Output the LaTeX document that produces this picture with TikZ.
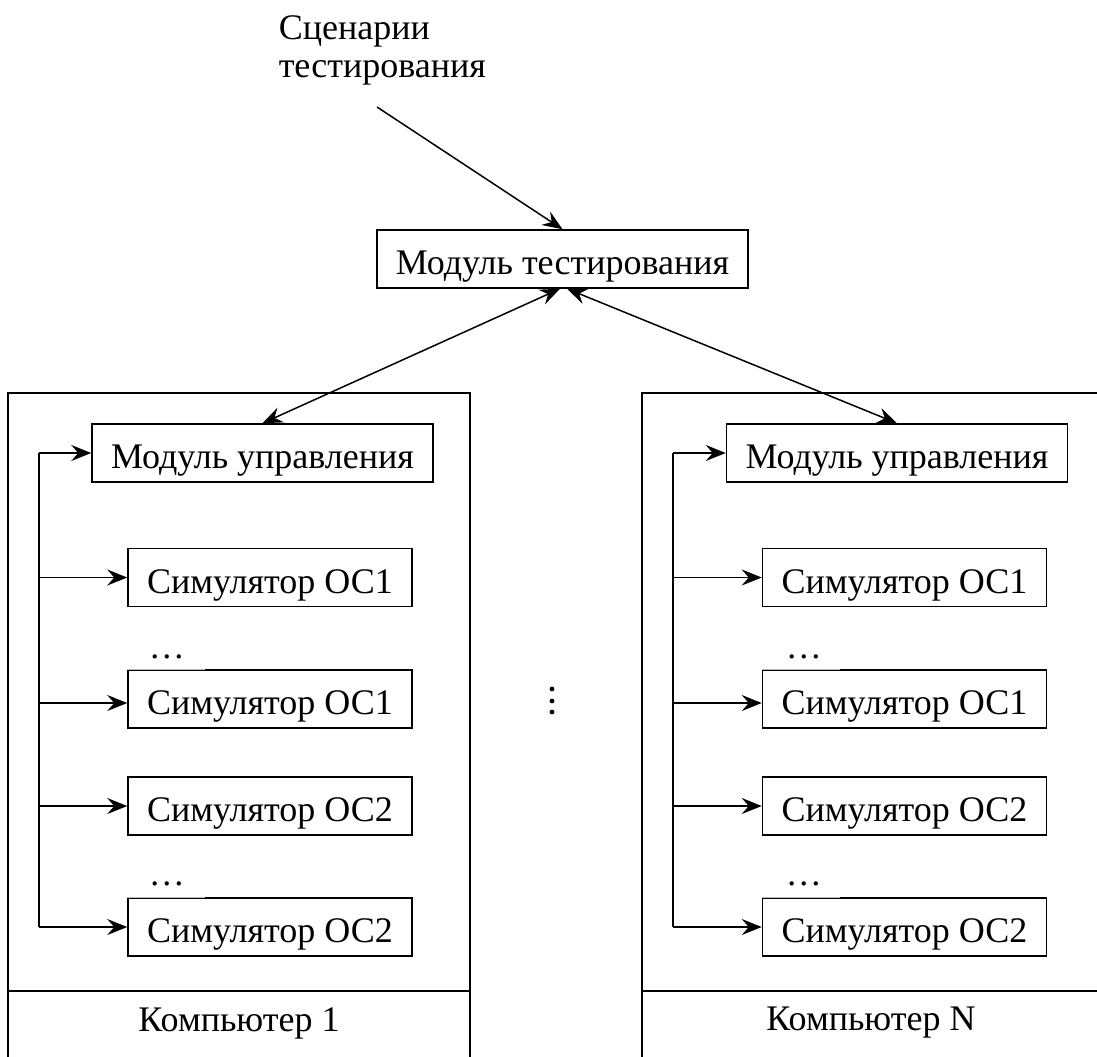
\documentclass[tikz,border=0pt]{standalone}
\usepackage{fontspec}
\setmainfont{Liberation Serif}
\usetikzlibrary{arrows.meta,calc}
\begin{document}
\begin{tikzpicture}[x=0.5pt,y=-0.5pt,
  font=\fontsize{18}{19}\selectfont,
  line width=0.75pt,
  tip/.style={-{Stealth[length=10pt,width=8pt,inset=3.5pt]}},
  both/.style={{Stealth[length=10pt,width=8pt,inset=3.5pt]}-{Stealth[length=10pt,width=8pt,inset=3.5pt]}},
  box/.style={draw,inner sep=0pt,minimum height=29pt,text height=15.5pt,text depth=0pt},
  testbox/.style={box,minimum width=185.5pt},
  mubox/.style={box,minimum width=170.5pt},
  simbox/.style={box,minimum width=142pt},
  comp/.style={draw},
  divider/.style={line width=1.1pt},
  faint/.style={draw=white,line width=1pt},
  faintgray/.style={draw=gray!55,line width=0.5pt},
  dotc/.style={fill=black,draw=none}]
\useasboundingbox (0,0) rectangle (1097,1056);

% computers
\draw[comp] (8,1070) -- (8,393) -- (470,393) -- (470,1070);
\draw[divider] (8,991) -- (470,991);
\draw[comp] (642,1070) -- (642,393) -- (1110,393);
\draw[divider] (642,991) -- (1110,991);
\node (c1) at (239,1023) {Компьютер 1};
\node (cN) at (871,1023) {Компьютер N};

% top
\node[align=left,anchor=north west,inner sep=0pt] (scen) at (278,15) {Сценарии\\тестирования};
\node[testbox] (test) at (562.5,259) {Модуль тестирования};
\coordinate (scenend) at (377,107);
\draw[tip] (scenend) -- (test.north);

% computer 1
\node[mubox] (mu1) at (262.5,453) {Модуль управления};
\node[simbox] (s11) at (270,577.5) {Симулятор ОС1};
\node[simbox] (s12) at (270,699) {Симулятор ОС1};
\node[simbox] (s21) at (270,806) {Симулятор ОС2};
\node[simbox] (s22) at (270,927) {Симулятор ОС2};
\node[anchor=west,inner sep=0pt] (d1) at (148,657) {…};
\node[anchor=west,inner sep=0pt] (d2) at (148,884) {…};
\coordinate (b1top) at (39,453);
\coordinate (b1bot) at (39,927);
\coordinate (s12in) at ($(s12.west)+(0,4)$);
\draw (b1bot) -- (b1top);
\draw[tip] (b1top) -- (mu1.west);
\draw[tip] (b1bot) -- (s22.west);
\draw[tip] (b1top |- s11.west) -- (s11.west);
\draw[tip] (b1top |- s12in) -- (s12in);
\draw[tip] (b1top |- s21.west) -- (s21.west);
\draw[faint] (s12.north west) -- ++(78,0);
\draw[faintgray] (s12.north west) -- ++(78,0);
\draw[faint] (s22.north west) -- ++(78,0);
\draw[faintgray] (s22.north west) -- ++(78,0);

% computer N
\node[mubox] (mu2) at (897,453) {Модуль управления};
\node[simbox] (r11) at (904.5,577.5) {Симулятор ОС1};
\node[simbox] (r12) at (904.5,699) {Симулятор ОС1};
\node[simbox] (r21) at (904.5,806) {Симулятор ОС2};
\node[simbox] (r22) at (904.5,927) {Симулятор ОС2};
\node[anchor=west,inner sep=0pt] (d3) at (785,657) {…};
\node[anchor=west,inner sep=0pt] (d4) at (785,884) {…};
\coordinate (b2top) at (673,453);
\coordinate (b2bot) at (673,927);
\coordinate (r12in) at ($(r12.west)+(0,4)$);
\draw (b2bot) -- (b2top);
\draw[tip] (b2top) -- (mu2.west);
\draw[tip] (b2bot) -- (r22.west);
\draw[tip] (b2top |- r11.west) -- (r11.west);
\draw[tip] (b2top |- r12in) -- (r12in);
\draw[tip] (b2top |- r21.west) -- (r21.west);
\draw[faint] (r12.north west) -- ++(78,0);
\draw[faintgray] (r12.north west) -- ++(78,0);
\draw[faint] (r22.north west) -- ++(78,0);
\draw[faintgray] (r22.north west) -- ++(78,0);

% vertical dots
\fill[dotc] (552,689) circle (1.2pt);
\fill[dotc] (552,701) circle (1.2pt);
\fill[dotc] (552,712) circle (1.2pt);

% links
\draw[both] ($(test.south)+(-2.5,0)$) -- (mu1.north);
\draw[both] ($(test.south)+(4.5,0)$) -- (mu2.north);
\end{tikzpicture}
\end{document}
